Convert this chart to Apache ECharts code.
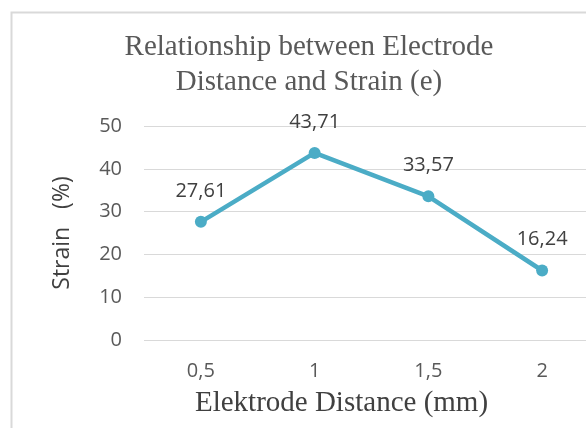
<!DOCTYPE html>
<html><head><meta charset="utf-8">
<script src="https://cdn.jsdelivr.net/npm/echarts@6/dist/echarts.min.js"></script>
<style>html,body{margin:0;padding:0;background:#fff}#c{width:586px;height:428px}</style>
</head><body><div id="c"></div>
<script>
const categories = ['0,5', '1', '1,5', '2'];
const strainValues = [27.61, 43.71, 33.57, 16.24];
const yTicks = [0, 10, 20, 30, 40, 50];

const chart = echarts.init(document.getElementById('c'), null, {renderer: 'canvas'});
chart.setOption({
  animation: false,
  backgroundColor: '#fff',
  graphic: [{
    type: 'rect', left: 9, top: 10, shape: {width: 600, height: 440},
    style: {fill: 'none', stroke: '#d9d9d9', lineWidth: 2}
  }],
  title: {
    text: 'Relationship between Electrode\nDistance and Strain (e)',
    left: 304, top: 25, textAlign: 'center',
    textStyle: {fontFamily: 'Liberation Serif', fontSize: 29, fontWeight: 'normal', color: '#595959', lineHeight: 35}
  },
  grid: {left: 144, top: 126, width: 455, height: 214, outerBoundsMode: 'none'},
  xAxis: {
    type: 'category', data: categories, boundaryGap: true,
    axisLine: {show: false}, axisTick: {show: false},
    axisLabel: {fontFamily: 'Open Sans', fontSize: 20, color: '#595959', margin: 21},
    name: 'Elektrode Distance (mm)', nameLocation: 'middle', nameGap: 49,
    nameTextStyle: {fontFamily: 'Liberation Serif', fontSize: 29, color: '#404040', padding: [0, 0, 0, -60]}
  },
  yAxis: {
    type: 'value', min: yTicks[0], max: yTicks[yTicks.length - 1], interval: 10,
    axisLine: {show: false}, axisTick: {show: false},
    splitLine: {lineStyle: {color: '#d9d9d9', width: 1}},
    axisLabel: {fontFamily: 'Open Sans', fontSize: 20, color: '#595959', margin: 22},
    name: 'Strain   (%)', nameLocation: 'middle', nameGap: 70, nameRotate: 90,
    nameTextStyle: {fontFamily: 'Open Sans', fontSize: 23, color: '#404040'}
  },
  series: [{
    type: 'line', data: strainValues,
    lineStyle: {color: '#4bacc6', width: 4.5},
    itemStyle: {color: '#4bacc6'},
    symbol: 'circle', symbolSize: 12,
    label: {
      show: true, position: 'top', distance: 15,
      fontFamily: 'Open Sans', fontSize: 20, color: '#404040',
      formatter: p => p.value.toFixed(2).replace('.', ',')
    }
  }]
});
</script></body></html>
